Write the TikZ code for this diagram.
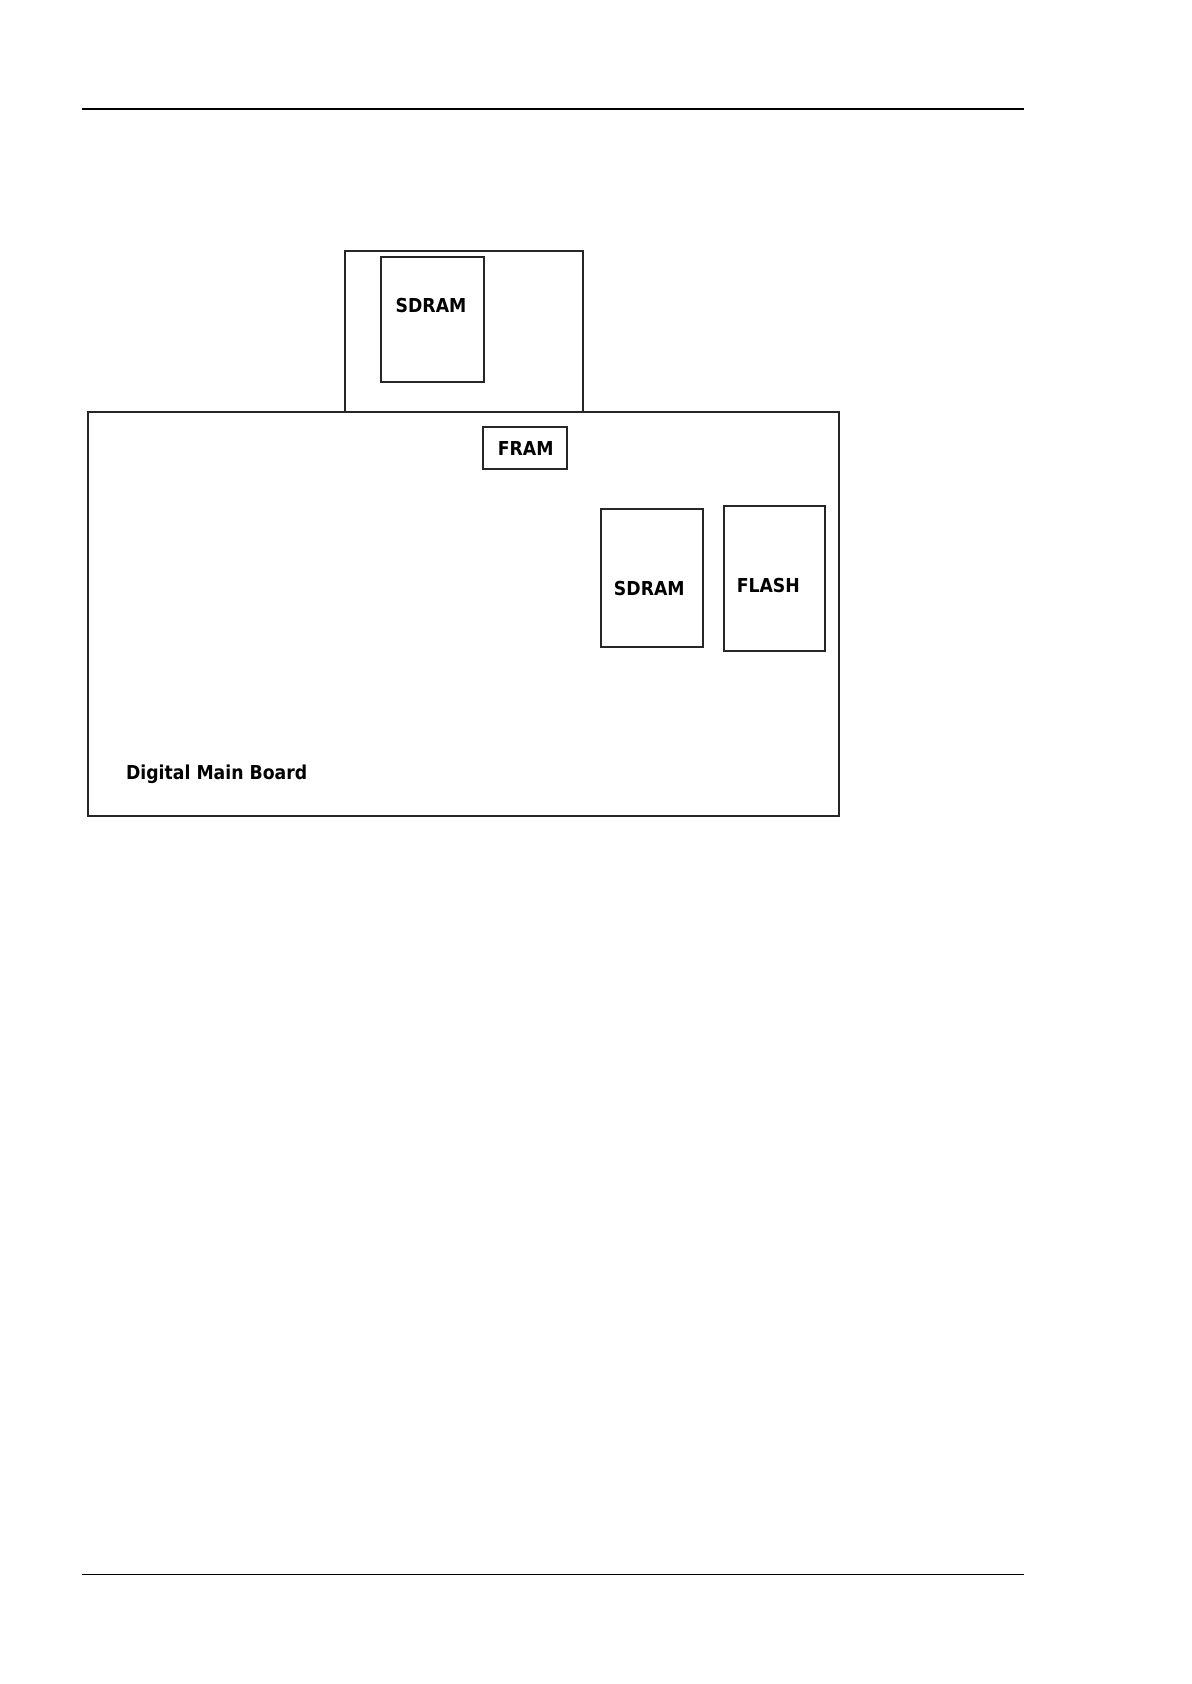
\documentclass[tikz,border=0pt]{standalone}
\usepackage{fontspec}
\setmainfont{DejaVu Sans}
\newfontfamily\lblfont[FakeStretch=0.9]{DejaVu Sans}
\begin{document}
\begin{tikzpicture}[x=0.5pt,y=-0.5pt,
  box/.style={draw=black!85,line width=0.9pt,rectangle,inner sep=0pt,outer sep=0pt},
  sz/.style 2 args={minimum width=#1*0.5pt,minimum height=#2*0.5pt},
  lbl/.style={font=\lblfont\fontsize{9.6}{11}\selectfont\bfseries,inner sep=0pt,anchor=base},
  rule/.style={draw=black}]
\useasboundingbox[fill=white] (0,0) rectangle (1191,1684);
% header / footer rules
\coordinate (t1) at (82,108.7);
\coordinate (t2) at (1024,108.7);
\coordinate (b1) at (82,1574);
\coordinate (b2) at (1024,1574);
\draw[rule,line width=1pt] (t1) -- (t2);
\draw[rule,line width=0.5pt] (b1) -- (b2);
% boards
\node[box,sz={237.7}{160.7}] (upper) at (464.2,331.4) {};
\node[box,sz={751}{404.6}] (main) at (463.8,614) {};
% chips
\node[box,sz={102.7}{125}] (sd1) at (432.3,319.2) {};
\node[box,sz={83.4}{42.3}] (fram) at (525,447.8) {};
\node[box,sz={102.3}{137.4}] (sd2) at (652.2,578) {};
\node[box,sz={101}{144.4}] (flash) at (774.5,578.5) {};
% labels
\node[lbl] (tsd1) at (431,312.7) {SDRAM};
\node[lbl] (tfram) at (525.7,455.3) {FRAM};
\node[lbl] (tsd2) at (649.3,595.3) {SDRAM};
\node[lbl] (tflash) at (768.3,592) {FLASH};
\node[lbl,anchor=base west] (tmain) at (125.7,779) {Digital Main Board};
\end{tikzpicture}
\end{document}
